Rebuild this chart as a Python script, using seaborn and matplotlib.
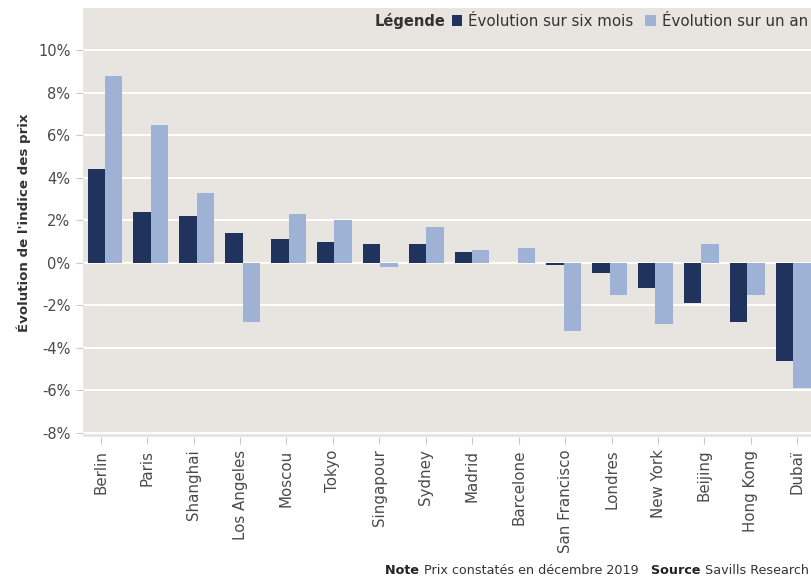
import numpy as np
import pandas as pd
import seaborn as sns
import matplotlib.pyplot as plt

# Data (percent)
cities = ['Berlin', 'Paris', 'Shanghai', 'Los Angeles', 'Moscou', 'Tokyo', 'Singapour',
          'Sydney', 'Madrid', 'Barcelone', 'San Francisco', 'Londres', 'New York',
          'Beijing', 'Hong Kong', 'Dubaï']
six_mois = [4.4, 2.4, 2.2, 1.4, 1.1, 1.0, 0.9, 0.9, 0.5, 0.0, -0.1, -0.5, -1.2, -1.9, -2.8, -4.6]
un_an = [8.8, 6.5, 3.3, -2.8, 2.3, 2.0, -0.2, 1.7, 0.6, 0.7, -3.2, -1.5, -2.9, 0.9, -1.5, -5.9]
series = ['Évolution sur six mois', 'Évolution sur un an']
yticks = [-8, -6, -4, -2, 0, 2, 4, 6, 8, 10]

df = pd.DataFrame({
    'ville': cities * 2,
    'serie': [series[0]] * len(cities) + [series[1]] * len(cities),
    'valeur': six_mois + un_an,
})

bg = '#e8e4df'
dark = '#1f335d'
light = '#9db2d4'
txt = '#4a4a4a'

sns.set_style('white', {'axes.facecolor': bg})
plt.rcParams['font.family'] = ['DejaVu Sans']

fig = plt.figure(figsize=(8.11, 5.81), dpi=100)
ax = fig.add_axes([83 / 811, 1 - 437 / 581, 1 - 83 / 811, (437 - 8) / 581])

sns.barplot(data=df, x='ville', y='valeur', hue='serie', order=cities, hue_order=series,
            palette=[dark, light], width=0.76, linewidth=0, saturation=1, ax=ax, zorder=3)

ax.set_ylim(-8.2, 12.0)
ax.set_xlim(-0.48, 15.39)
ax.set_yticks(yticks)
ax.set_yticklabels([f'{v}%' for v in yticks], fontsize=10.5, color=txt)
# ticks in the original sit on a slightly wider pitch than the bar groups
tick_pos = [-0.094 + i * 1.0124 for i in range(len(cities))]
ax.set_xticks(tick_pos)
ax.set_xticklabels(cities, rotation=90, fontsize=10.8, color=txt)
ax.grid(axis='y', color='white', linewidth=1.5, zorder=0)
ax.set_axisbelow(True)
for s in ax.spines.values():
    s.set_visible(False)
ax.tick_params(axis='both', length=5, color='#c8c8c8', width=0.8, pad=4, bottom=True, left=True)
ax.set_xlabel('')
ax.set_ylabel("Évolution de l'indice des prix", fontsize=9.6, fontweight='bold', color='#333333',
              labelpad=5)

# Legend along the top right
handles, labels = ax.get_legend_handles_labels()
leg = ax.legend(handles, labels, ncol=2, frameon=False, loc='center right',
                bbox_to_anchor=(1.0, (437 - 21) / (437 - 8)), borderaxespad=0, borderpad=0.2,
                handlelength=0.7, handleheight=0.7, handletextpad=0.4, columnspacing=0.8,
                fontsize=10.8)
for t in leg.get_texts():
    t.set_color('#333333')
ax.annotate('Légende', xy=(0, 0.5), xycoords=leg, xytext=(-2, 0), textcoords='offset points',
            ha='right', va='center', fontsize=10.5, fontweight='bold', color='#333333')

# Note and source at the bottom right
t4 = fig.text(0.997, 1 - 571 / 581, 'Savills Research', ha='right', va='center',
              fontsize=9.2, color='#333333')
a3 = ax.annotate('Source ', xy=(0, 0.5), xycoords=t4, ha='right', va='center',
                 fontsize=9.2, fontweight='bold', color='#222222', annotation_clip=False)
a2 = ax.annotate('Prix constatés en décembre 2019   ', xy=(0, 0.5), xycoords=a3, ha='right',
                 va='center', fontsize=9.2, color='#333333', annotation_clip=False)
a1 = ax.annotate('Note ', xy=(0, 0.5), xycoords=a2, ha='right', va='center',
                 fontsize=9.2, fontweight='bold', color='#222222', annotation_clip=False)

fig.savefig('out.png', dpi=100)
